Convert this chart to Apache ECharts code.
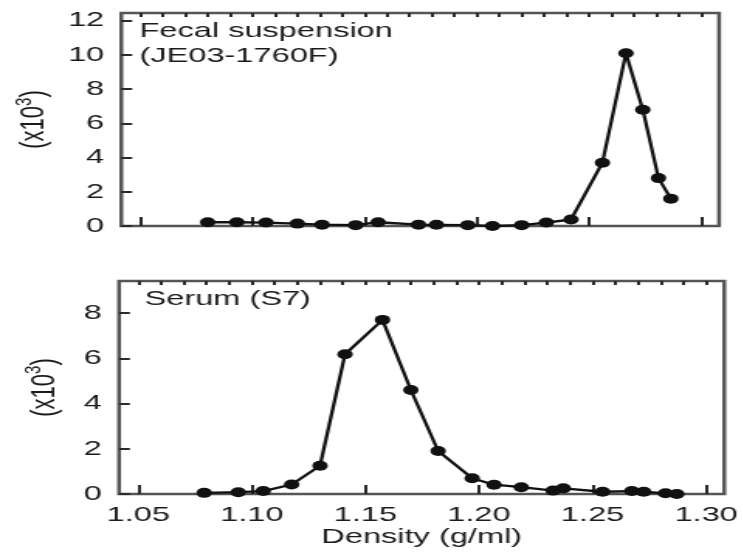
<!DOCTYPE html>
<html>
<head>
<meta charset="utf-8">
<script src="https://cdn.jsdelivr.net/npm/echarts@6/dist/echarts.min.js"></script>
<style>
html,body{margin:0;padding:0;background:#fff;overflow:hidden;}
#chart{width:479.35px;height:554px;transform:scaleX(1.55);transform-origin:0 0;}
</style>
</head>
<body>
<div id="chart"></div>
<script>
// ---- data ----
const fecalDensity = [1.080, 1.093, 1.106, 1.120, 1.131, 1.146, 1.156, 1.174, 1.182, 1.196, 1.207, 1.220, 1.231, 1.242, 1.256, 1.2665, 1.274, 1.281, 1.2865];
const fecalValue   = [0.22, 0.22, 0.20, 0.14, 0.08, 0.05, 0.22, 0.08, 0.07, 0.05, 0.0, 0.05, 0.20, 0.38, 3.7, 10.1, 6.8, 2.8, 1.6];
const serumDensity = [1.079, 1.094, 1.105, 1.1175, 1.130, 1.141, 1.1575, 1.170, 1.182, 1.197, 1.2066, 1.2186, 1.2326, 1.2371, 1.2544, 1.2673, 1.2725, 1.2821, 1.2871];
const serumValue   = [0.05, 0.08, 0.13, 0.42, 1.25, 6.18, 7.7, 4.6, 1.9, 0.7, 0.41, 0.30, 0.15, 0.25, 0.10, 0.13, 0.10, 0.03, 0.0];
const xMajorTicks = [1.05, 1.10, 1.15, 1.20, 1.25, 1.30];
const xMinorTicks = [1.05,1.06,1.07,1.08,1.09,1.10,1.11,1.12,1.13,1.14,1.15,1.16,1.17,1.18,1.19,1.20,1.21,1.22,1.23,1.24,1.25,1.26,1.27,1.28,1.29,1.30];
const yTicksTop = [0, 2, 4, 6, 8, 10, 12];
const yTicksBottom = [0, 2, 4, 6, 8];
const xMin = 1.0415, xMax = 1.308;
const yMaxTop = 12.45, yMaxBottom = 9.42;
const fecalLabel = ['Fecal suspension', '(JE03-1760F)'];
const serumLabel = 'Serum (S7)';
const xTitle = 'Density (g/ml)';

const FONT = 'Liberation Sans, Arial, Helvetica, sans-serif';
const TXT = '#1a1a1a';
const FRAME = '#555';
const TICK = '#2a2a2a';

const chart = echarts.init(document.getElementById('chart'));

function pairs(xs, ys){ return xs.map((x,i)=>[x, ys[i]]); }

const yName = '{a|(x10}{s|3}{a|)}';
const yNameStyle = {
  rich: {
    a: {fontFamily: FONT, fontSize: 22, color: TXT, lineHeight: 28},
    s: {fontFamily: FONT, fontSize: 15, color: TXT, verticalAlign: 'top', lineHeight: 28}
  }
};

function makeX(grid, showLabels, major) {
  return {
    type: 'value', gridIndex: grid, min: xMin, max: xMax,
    axisLine: {show: false},
    splitLine: {show: false},
    axisTick: {show: true, inside: true, length: major ? 9 : 4,
      customValues: major ? xMajorTicks : xMinorTicks,
      lineStyle: {color: TICK, width: 2}},
    axisLabel: {show: showLabels, customValues: xMajorTicks, margin: 11,
      fontFamily: FONT, fontSize: 21, color: TXT,
      formatter: v => v.toFixed(2)},
    name: (showLabels && major) ? xTitle : '',
    nameLocation: 'middle', nameGap: 33,
    nameTextStyle: {fontFamily: FONT, fontSize: 21, color: TXT}
  };
}

function makeY(grid, max, ticks, gap) {
  return {
    type: 'value', gridIndex: grid, min: 0, max: max,
    axisLine: {show: false},
    splitLine: {show: false},
    axisTick: {show: true, inside: true, length: 7, customValues: ticks,
      lineStyle: {color: TICK, width: 2}},
    axisLabel: {show: true, customValues: ticks, margin: 11,
      fontFamily: FONT, fontSize: 21, color: TXT, formatter: v => String(v)},
    name: yName, nameLocation: 'middle', nameRotate: 90, nameGap: gap,
    nameTextStyle: yNameStyle
  };
}

const lineSeries = (xi, yi, data) => ({
  type: 'line', xAxisIndex: xi, yAxisIndex: yi, data: data,
  symbol: 'circle', symbolSize: 10, showSymbol: true,
  lineStyle: {color: '#111', width: 2.3},
  itemStyle: {color: '#111'},
  animation: false, silent: true
});

chart.setOption({
  animation: false,
  grid: [
    {left: 72.3, width: 391.6, top: 13, height: 213, show: true, borderColor: FRAME, borderWidth: 2.5, backgroundColor: 'transparent'},
    {left: 76.8, width: 391.6, top: 281, height: 213, show: true, borderColor: FRAME, borderWidth: 2.5, backgroundColor: 'transparent'}
  ],
  xAxis: [
    makeX(0, false, true),
    makeX(1, true, true),
    makeX(0, false, false),
    makeX(1, false, false)
  ],
  yAxis: [
    makeY(0, yMaxTop, yTicksTop, 35),
    makeY(1, yMaxBottom, yTicksBottom, 34)
  ],
  graphic: [
    {type: 'text', left: 90, top: 21, style: {text: fecalLabel[0], fontFamily: FONT, fontSize: 21, fill: TXT}},
    {type: 'text', left: 90, top: 46, style: {text: fecalLabel[1], fontFamily: FONT, fontSize: 21, fill: TXT}},
    {type: 'text', left: 93.2, top: 289, style: {text: serumLabel, fontFamily: FONT, fontSize: 21, fill: TXT}}
  ],
  series: [
    lineSeries(0, 0, pairs(fecalDensity, fecalValue)),
    lineSeries(1, 1, pairs(serumDensity, serumValue))
  ]
});
</script>
</body>
</html>
